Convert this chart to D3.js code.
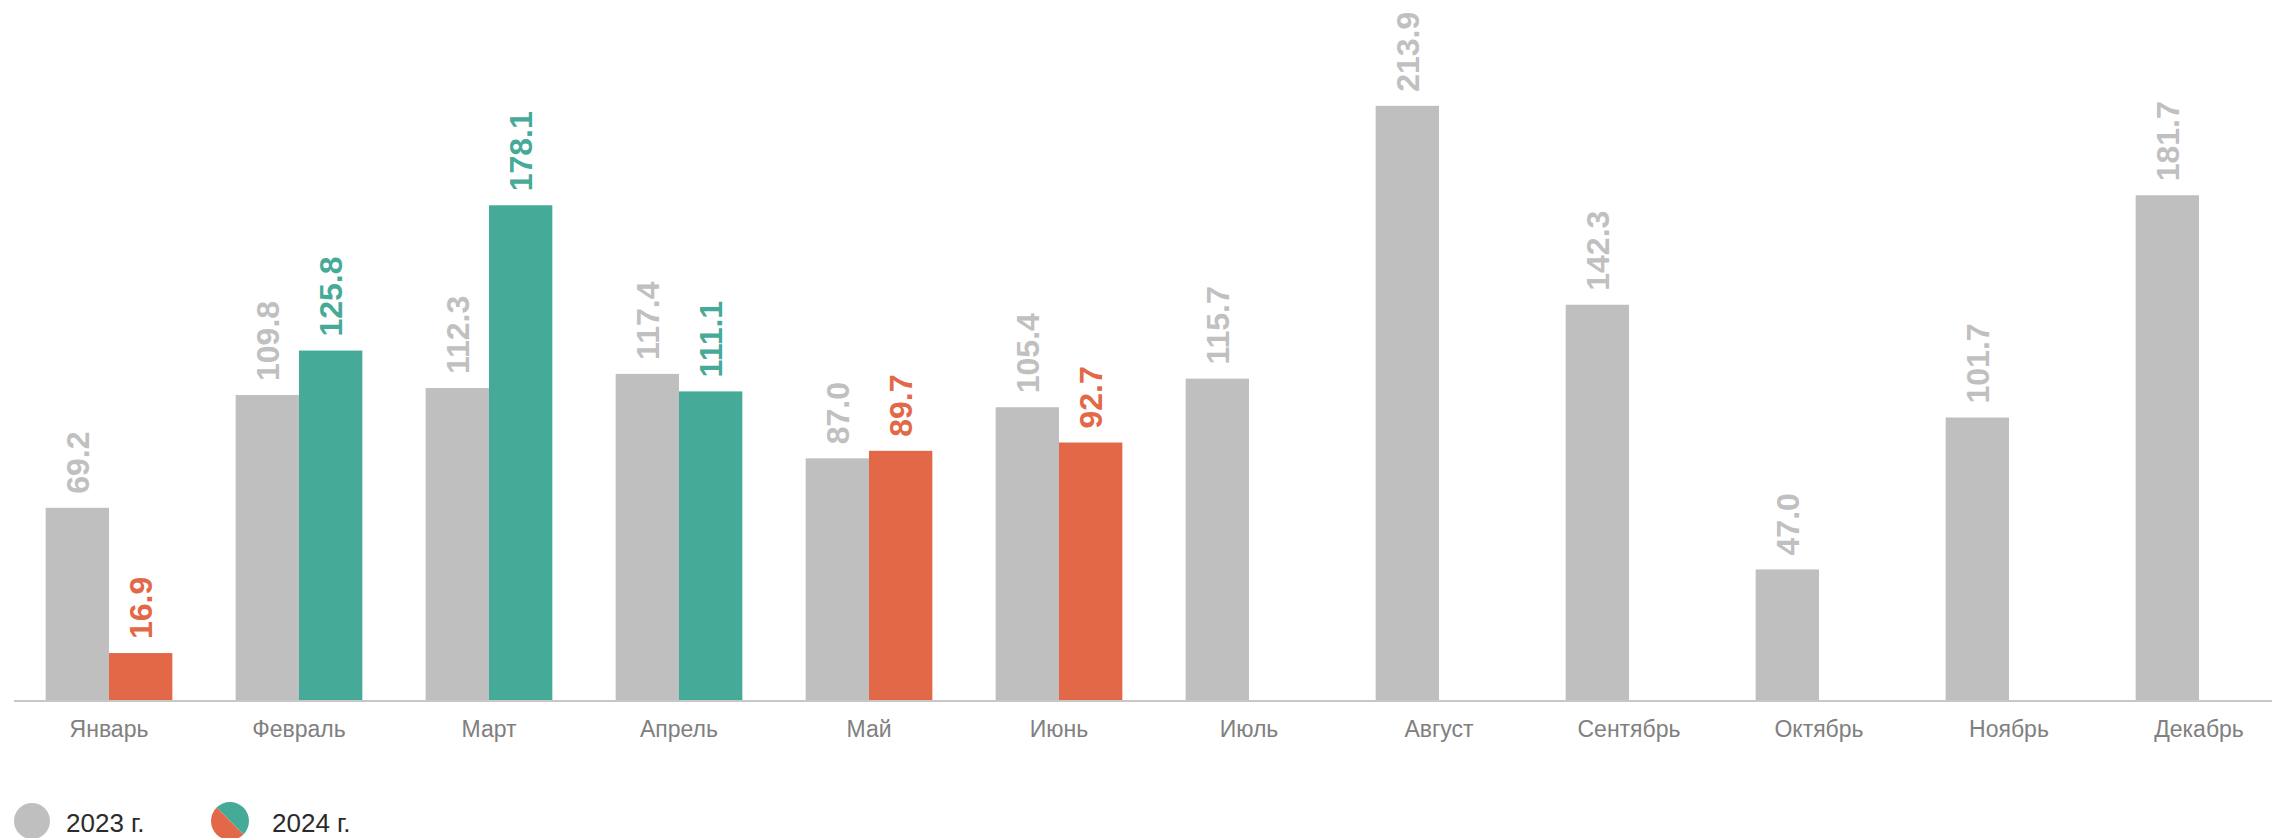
<!DOCTYPE html>
<html>
<head>
<meta charset="utf-8">
<script src="https://cdn.jsdelivr.net/npm/d3@7"></script>
<style>
    html, body { margin: 0; padding: 0; background: #fff; }
    svg { display: block; font-family: "Liberation Sans", Arial, sans-serif; }
</style>
</head>
<body>
<div id="chart"></div>
<script>
    var months = ['Январь', 'Февраль', 'Март', 'Апрель', 'Май', 'Июнь',
        'Июль', 'Август', 'Сентябрь', 'Октябрь', 'Ноябрь', 'Декабрь'];
    var series = ['2023', '2024'];
    var values2023 = [69.2, 109.8, 112.3, 117.4, 87.0, 105.4, 115.7, 213.9, 142.3, 47.0, 101.7, 181.7];
    var values2024 = [16.9, 125.8, 178.1, 111.1, 89.7, 92.7];
    var legendLabels = ['2023 г.', '2024 г.'];

    var width = 2272, height = 838;
    var grey = '#bfbfbf', teal = '#46aa98', orange = '#e36847';

    // 2024 bars: green from 100 upwards, red below
    function color2024(v) { return v >= 100 ? teal : orange; }

    var svg = d3.select('#chart')
        .append('svg')
        .attr('width', width)
        .attr('height', height);

    var x = d3.scaleBand()
        .domain(months)
        .range([14, 14 + 190 * months.length])
        .paddingInner(1 / 3)
        .paddingOuter(1 / 6);

    var xs = d3.scaleBand()
        .domain(series)
        .range([0, x.bandwidth()]);

    var y = d3.scaleLinear()
        .domain([0, 252])
        .range([700, 0]);

    var rows = [];
    months.forEach(function (m, i) {
        rows.push({ month: m, year: '2023', value: values2023[i], fill: grey, label: '#c0c0c0' });
        if (i < values2024.length) {
            var c = color2024(values2024[i]);
            rows.push({ month: m, year: '2024', value: values2024[i], fill: c, label: c });
        }
    });

    svg.append('g')
        .selectAll('rect')
        .data(rows)
        .enter()
        .append('rect')
        .attr('x', function (d) { return x(d.month) + xs(d.year); })
        .attr('y', function (d) { return y(d.value); })
        .attr('width', xs.bandwidth())
        .attr('height', function (d) { return y(0) - y(d.value); })
        .attr('fill', function (d) { return d.fill; });

    // rotated value labels over the bars
    svg.append('g')
        .selectAll('text')
        .data(rows)
        .enter()
        .append('text')
        .attr('transform', function (d) {
            var cx = x(d.month) + xs(d.year) + xs.bandwidth() / 2 + 11.5;
            return 'translate(' + cx + ',' + (y(d.value) - 14) + ') rotate(-90)';
        })
        .attr('font-size', 32)
        .attr('font-weight', 'bold')
        .attr('fill', function (d) { return d.label; })
        .text(function (d) { return d.value.toFixed(1); });

    var axis = svg.append('g')
        .attr('transform', 'translate(0,' + y(0) + ')')
        .call(d3.axisBottom(x).tickSize(0).tickPadding(21));
    axis.select('.domain').remove();
    axis.selectAll('text')
        .attr('font-family', '"Liberation Sans", Arial, sans-serif')
        .attr('font-size', 23)
        .attr('fill', '#808080');

    svg.append('line')
        .attr('x1', 14)
        .attr('x2', width)
        .attr('y1', y(0) + 1)
        .attr('y2', y(0) + 1)
        .attr('stroke', '#c8c8c8')
        .attr('stroke-width', 2);

    // legend
    var legend = svg.append('g').attr('transform', 'translate(0,821)');
    legend.append('circle')
        .attr('cx', 32).attr('cy', 0).attr('r', 18)
        .attr('fill', grey);

    var r = 19, cx2 = 230;
    var k = r * Math.SQRT1_2;
    // half circle split along the top-left / bottom-right diagonal
    legend.append('path')
        .attr('d', 'M' + (cx2 - k) + ',' + (-k) + ' A' + r + ',' + r + ' 0 0 1 ' + (cx2 + k) + ',' + k + ' Z')
        .attr('fill', teal);
    legend.append('path')
        .attr('d', 'M' + (cx2 + k) + ',' + k + ' A' + r + ',' + r + ' 0 0 1 ' + (cx2 - k) + ',' + (-k) + ' Z')
        .attr('fill', orange);

    legend.selectAll('text.leg')
        .data(legendLabels)
        .enter()
        .append('text')
        .attr('class', 'leg')
        .attr('x', function (d, i) { return i ? 272 : 66; })
        .attr('y', 11)
        .attr('font-size', 26)
        .attr('fill', '#2b2b2b')
        .text(function (d) { return d; });
</script>
</body>
</html>
